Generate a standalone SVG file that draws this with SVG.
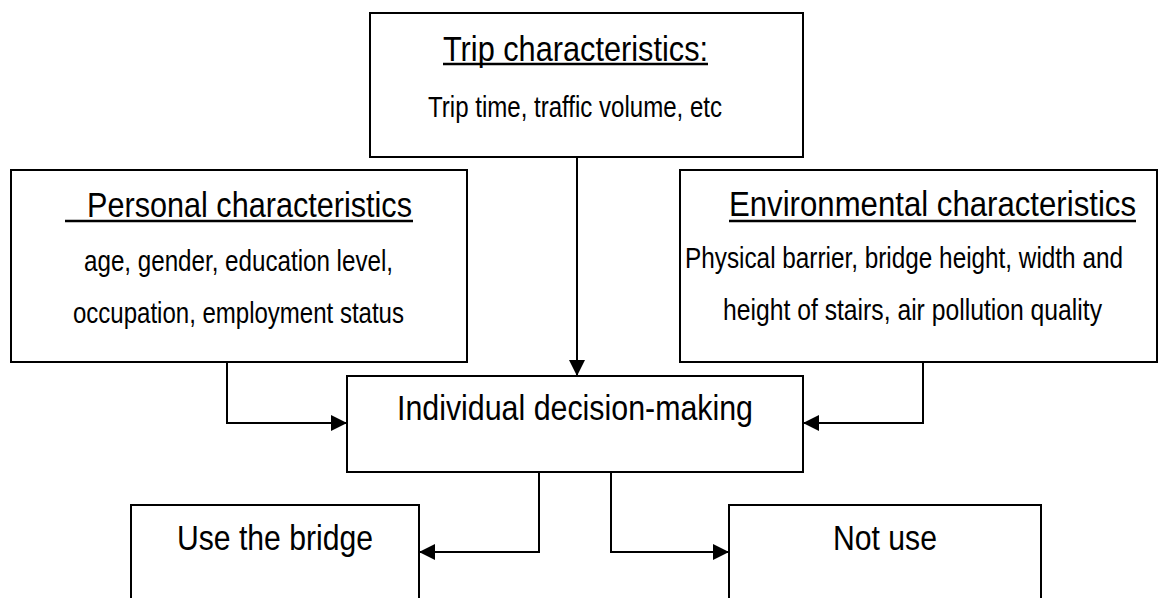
<svg xmlns="http://www.w3.org/2000/svg" width="1163" height="598" viewBox="0 0 1163 598">
<style>
.box{fill:#fff;stroke:#000;stroke-width:2}
.conn{fill:none;stroke:#000;stroke-width:2}
.ul{stroke:#000;stroke-width:2.5}
.t{font-family:"Liberation Sans",Arial,sans-serif;fill:#000}
.h{font-size:35px}
.b{font-size:29px}
</style>
<defs>
<marker id="arr" viewBox="0 0 16 16" refX="16" refY="8" markerWidth="16" markerHeight="16" markerUnits="userSpaceOnUse" orient="auto">
<path d="M0,0 L16,8 L0,16 Z" fill="#000"/>
</marker>
</defs>
<rect width="1163" height="598" fill="#fff"/>
<g id="trip">
<rect class="box" x="370" y="13" width="433" height="144"/>
<text class="t h" transform="translate(443,61) scale(0.84,1)" textLength="315.5" lengthAdjust="spacingAndGlyphs">Trip characteristics:</text>
<line class="ul" x1="443" y1="64" x2="708" y2="64"/>
<text class="t b" transform="translate(428,117) scale(0.84,1)" textLength="350" lengthAdjust="spacingAndGlyphs">Trip time, traffic volume, etc</text>
</g>
<g id="personal">
<rect class="box" x="11" y="170" width="456" height="192"/>
<text class="t h" transform="translate(87,217) scale(0.84,1)" textLength="386.9" lengthAdjust="spacingAndGlyphs">Personal characteristics</text>
<line class="ul" x1="65" y1="221" x2="413" y2="221"/>
<text class="t b" transform="translate(84,271) scale(0.84,1)" textLength="367.9" lengthAdjust="spacingAndGlyphs">age, gender, education level,</text>
<text class="t b" transform="translate(73,323) scale(0.84,1)" textLength="394" lengthAdjust="spacingAndGlyphs">occupation, employment status</text>
</g>
<g id="environmental">
<rect class="box" x="680" y="170" width="477" height="192"/>
<text class="t h" transform="translate(729,216) scale(0.84,1)" textLength="484.5" lengthAdjust="spacingAndGlyphs">Environmental  characteristics</text>
<line class="ul" x1="729" y1="221" x2="1136" y2="221"/>
<text class="t b" transform="translate(685,268) scale(0.84,1)" textLength="521.4" lengthAdjust="spacingAndGlyphs">Physical barrier, bridge height, width and</text>
<text class="t b" transform="translate(723,320) scale(0.84,1)" textLength="451.2" lengthAdjust="spacingAndGlyphs">height of stairs, air pollution quality</text>
</g>
<g id="decision">
<rect class="box" x="347" y="376" width="456" height="96"/>
<text class="t h" transform="translate(397,420) scale(0.84,1)" textLength="423.8" lengthAdjust="spacingAndGlyphs">Individual decision-making</text>
</g>
<g id="use">
<rect class="box" x="131" y="505" width="288" height="110"/>
<text class="t h" transform="translate(177,550) scale(0.84,1)" textLength="233.3" lengthAdjust="spacingAndGlyphs">Use the bridge</text>
</g>
<g id="notuse">
<rect class="box" x="729" y="505" width="312" height="110"/>
<text class="t h" transform="translate(833,550) scale(0.84,1)" textLength="123.8" lengthAdjust="spacingAndGlyphs">Not use</text>
</g>
<g id="connectors">
<path class="conn" d="M577,157 V376" marker-end="url(#arr)"/>
<path class="conn" d="M227,362 V423 H347" marker-end="url(#arr)"/>
<path class="conn" d="M923,362 V423 H803" marker-end="url(#arr)"/>
<path class="conn" d="M539,472 V552 H419" marker-end="url(#arr)"/>
<path class="conn" d="M611,472 V552 H729" marker-end="url(#arr)"/>
</g>
</svg>
